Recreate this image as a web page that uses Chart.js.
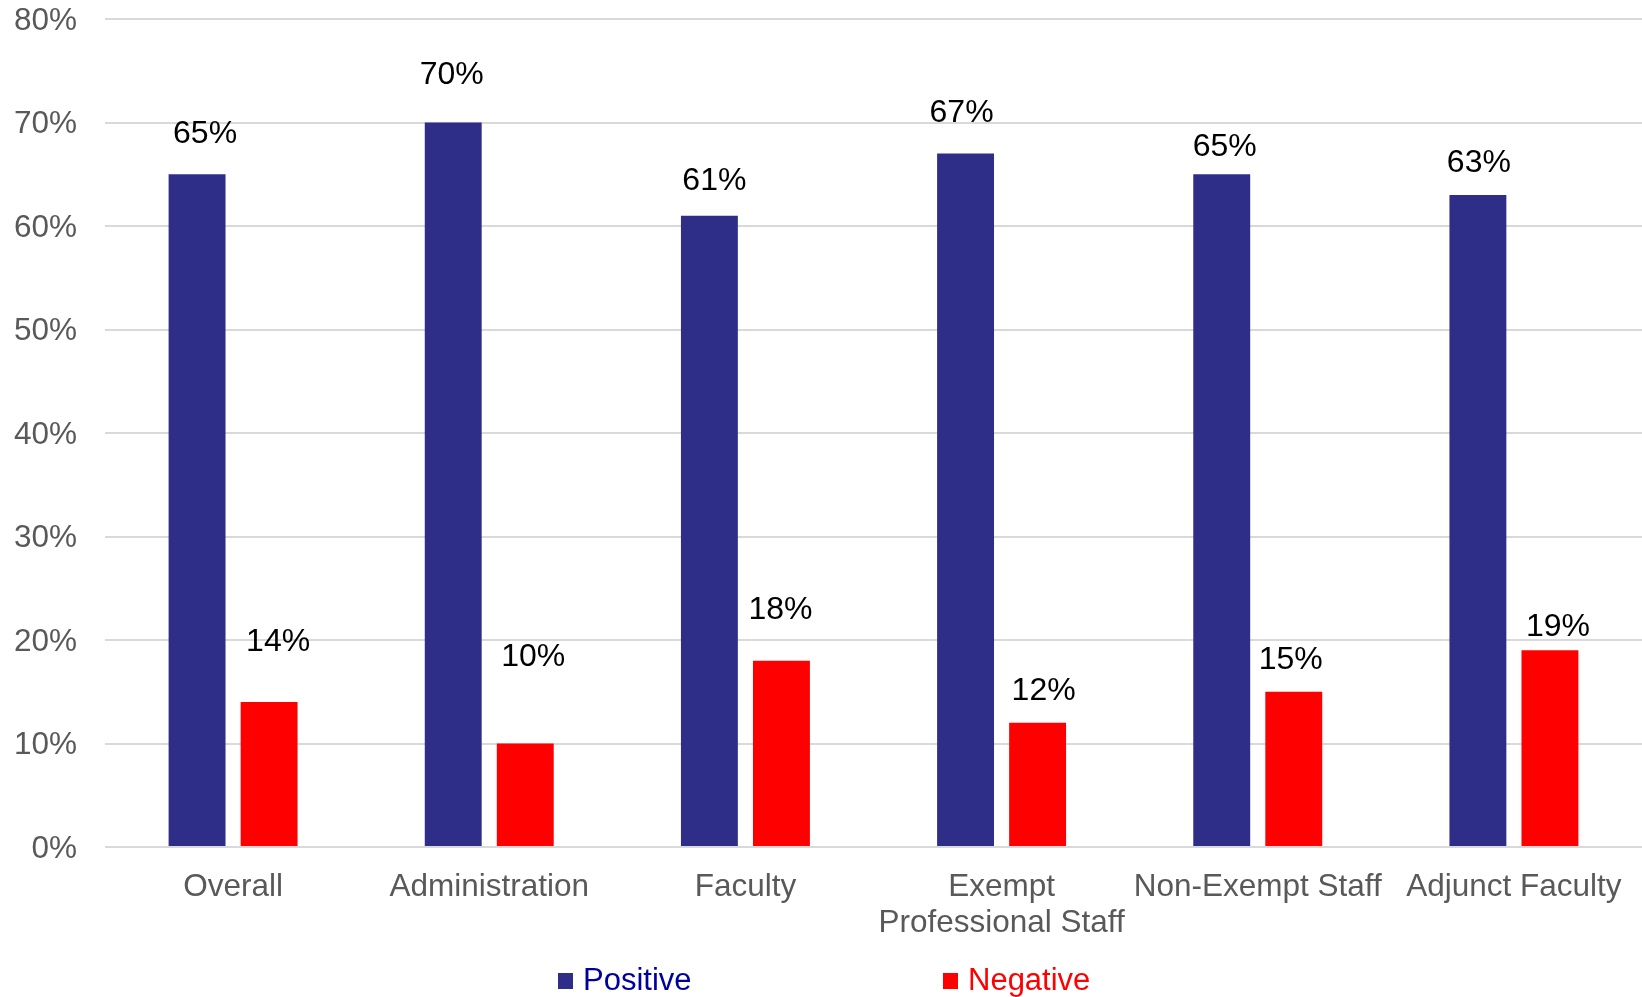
<!DOCTYPE html>
<html>
<head>
<meta charset="utf-8">
<script src="https://cdn.jsdelivr.net/npm/chart.js@4.4.1/dist/chart.umd.min.js"></script>
<style>
	body { margin:0; background:#fff; }
	#wrap { width:1642px; height:997px; }
</style>
</head>
<body>
<div id="wrap"><canvas id="chart1" width="1642" height="997"></canvas></div>
<script>
//////////////////////////////////////
//// chart data
var categories = ['Overall', 'Administration', 'Faculty', ['Exempt', 'Professional Staff'], 'Non-Exempt Staff', 'Adjunct Faculty'];
var positive = [65, 70, 61, 67, 65, 63];
var negative = [14, 10, 18, 12, 15, 19];
var yTicks = [0, 10, 20, 30, 40, 50, 60, 70, 80];

//label nudges (px), the labels in the original were hand placed
var posLabelUp = [40, 47, 34, 40, 27, 32];
var posLabelRight = [8, -1.5, 5, -4, 3, 1];
var negLabelUp = [60, 86, 51, 32, 32, 23];
var negLabelRight = [9, 8, -1, 6, -3, 8];

var FONT = "'Liberation Sans', Arial, sans-serif";
var BLUE = '#2E2E88';
var RED = '#FF0000';

//draws the value labels over the bars
var valueLabels = {
	id: 'valueLabels',
	afterDatasetsDraw: function(chart) {
		var ctx = chart.ctx;
		ctx.save();
		ctx.font = '32px ' + FONT;
		ctx.fillStyle = '#000';
		ctx.textAlign = 'center';
		ctx.textBaseline = 'middle';
		chart.data.datasets.forEach(function(ds, di) {
			var meta = chart.getDatasetMeta(di);
			var up = di == 0 ? posLabelUp : negLabelUp;
			var right = di == 0 ? posLabelRight : negLabelRight;
			meta.data.forEach(function(bar, i) {
				ctx.fillText(ds.data[i] + '%', bar.x + right[i], bar.y - up[i]);
			});
		});
		ctx.restore();
	}
};

//legend at the bottom, coloured text
var bottomLegend = {
	id: 'bottomLegend',
	afterDraw: function(chart) {
		var ctx = chart.ctx;
		var items = [
			{ text: 'Positive', box: BLUE, color: '#0000A0', x: 558 },
			{ text: 'Negative', box: RED, color: '#FF0000', x: 943 }
		];
		ctx.save();
		ctx.font = '31px ' + FONT;
		ctx.textBaseline = 'alphabetic';
		ctx.textAlign = 'left';
		items.forEach(function(it) {
			ctx.fillStyle = it.box;
			ctx.fillRect(it.x, 973, 15, 16);
			ctx.fillStyle = it.color;
			ctx.fillText(it.text, it.x + 25, 990);
		});
		ctx.restore();
	}
};

var chart1 = new Chart(document.getElementById('chart1'), {
	type: 'bar',
	data: {
		labels: categories,
		datasets: [
			{ label: 'Positive', data: positive, backgroundColor: BLUE },
			{ label: 'Negative', data: negative, backgroundColor: RED }
		]
	},
	options: {
		responsive: false,
		animation: false,
		categoryPercentage: 0.5625,
		barPercentage: 0.79,
		layout: { padding: { top: 19, right: 0, bottom: 50, left: 0 } },
		plugins: {
			legend: { display: false },
			tooltip: { enabled: false }
		},
		scales: {
			x: {
				grid: { display: false },
				border: { display: false },
				ticks: {
					color: '#595959',
					font: { family: FONT, size: 31.5, lineHeight: 1.14 },
					padding: 14,
					maxRotation: 0,
					autoSkip: false
				},
				afterFit: function(s) {
					s.height = 100;
					s.paddingLeft = 0;
					s.paddingRight = 0;
				}
			},
			y: {
				min: 0,
				max: 80,
				afterBuildTicks: function(s) {
					s.ticks = yTicks.map(function(v) { return { value: v }; });
				},
				grid: { color: '#D9D9D9', lineWidth: 2, drawTicks: false },
				border: { display: false },
				ticks: {
					color: '#595959',
					font: { family: FONT, size: 31.5 },
					padding: 28,
					labelOffset: 2,
					callback: function(v) { return v + '%'; }
				},
				afterFit: function(s) {
					s.width = 105;
					s.paddingTop = 0;
					s.paddingBottom = 0;
				}
			}
		}
	},
	plugins: [valueLabels, bottomLegend]
});
</script>
</body>
</html>
